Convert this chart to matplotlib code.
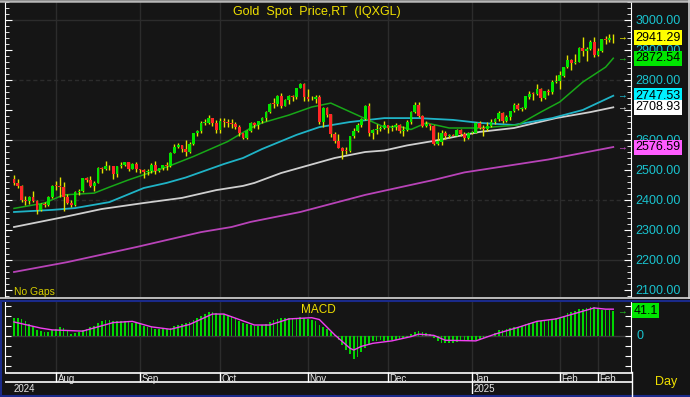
import numpy as np
import pandas as pd
import matplotlib
matplotlib.use("Agg")
import matplotlib.pyplot as plt
from matplotlib.lines import Line2D
from matplotlib.transforms import blended_transform_factory

# ---------------- data ----------------
start_date = "2024-07-17"
end_date = "2025-02-21"

opens = [2469, 2458, 2445, 2401, 2396, 2409, 2398, 2365, 2387, 2384, 2411,
         2448, 2447, 2443, 2410, 2390, 2383, 2427, 2431, 2472, 2465, 2448, 2457, 2508, 2504, 2514, 2512, 2485, 2512, 2518, 2525, 2504, 2521,
         2503, 2500, 2493, 2495, 2517, 2497, 2506, 2516, 2512, 2558, 2578, 2582, 2570, 2559, 2587, 2622, 2629, 2657, 2657, 2672, 2658,
         2635, 2663, 2659, 2656, 2653, 2644, 2622, 2608, 2631, 2657, 2649, 2662, 2674, 2693, 2721, 2720, 2748, 2715, 2735, 2747, 2743, 2774, 2788,
         2744, 2736, 2736, 2743, 2659, 2706, 2685, 2619, 2598, 2573, 2565, 2563, 2612, 2631, 2650, 2670, 2715, 2625, 2633, 2636, 2639,
         2650, 2640, 2643, 2650, 2631, 2633, 2660, 2694, 2718, 2680, 2648, 2652, 2646, 2587, 2595, 2622, 2613, 2617, 2615, 2633, 2621, 2606,
         2624, 2624, 2658, 2640, 2636, 2648, 2661, 2670, 2690, 2662, 2677, 2697, 2715, 2703, 2708, 2745, 2755, 2754, 2770, 2740, 2763, 2760, 2794,
         2798, 2815, 2843, 2866, 2856, 2861, 2908, 2898, 2904, 2928, 2882, 2898, 2936, 2933, 2939]
highs = [2483, 2470, 2449, 2412, 2412, 2431, 2400, 2390, 2393, 2413, 2451,
         2462, 2477, 2461, 2420, 2400, 2431, 2436, 2474, 2477, 2479, 2463, 2509, 2510, 2531, 2518, 2514, 2513, 2527, 2525, 2528, 2524, 2525,
         2504, 2503, 2503, 2523, 2529, 2507, 2518, 2526, 2560, 2586, 2589, 2584, 2600, 2594, 2625, 2634, 2664, 2670, 2685, 2674, 2666,
         2673, 2672, 2669, 2670, 2660, 2649, 2625, 2633, 2661, 2660, 2665, 2677, 2696, 2722, 2740, 2749, 2758, 2738, 2749, 2749, 2775, 2790, 2790,
         2770, 2746, 2750, 2749, 2710, 2711, 2686, 2626, 2619, 2576, 2578, 2614, 2639, 2656, 2673, 2717, 2722, 2637, 2655, 2647, 2664,
         2651, 2650, 2657, 2655, 2646, 2667, 2697, 2726, 2726, 2684, 2665, 2654, 2651, 2627, 2633, 2630, 2621, 2619, 2638, 2636, 2626, 2628,
         2630, 2661, 2665, 2649, 2660, 2670, 2673, 2697, 2693, 2684, 2698, 2725, 2724, 2711, 2746, 2763, 2760, 2786, 2772, 2765, 2770, 2800, 2817,
         2830, 2845, 2882, 2869, 2887, 2911, 2942, 2910, 2933, 2942, 2906, 2938, 2947, 2955, 2952]
lows = [2451, 2441, 2393, 2384, 2385, 2392, 2353, 2363, 2375, 2380, 2405,
        2432, 2410, 2364, 2385, 2377, 2380, 2415, 2427, 2461, 2444, 2431, 2455, 2491, 2501, 2500, 2471, 2478, 2505, 2512, 2498, 2502, 2493,
        2490, 2472, 2484, 2491, 2485, 2492, 2500, 2500, 2510, 2556, 2574, 2560, 2547, 2555, 2584, 2614, 2625, 2651, 2654, 2646, 2625,
        2624, 2645, 2643, 2640, 2636, 2615, 2604, 2603, 2627, 2640, 2637, 2656, 2665, 2690, 2706, 2715, 2708, 2713, 2720, 2730, 2736, 2772, 2730,
        2731, 2732, 2725, 2652, 2644, 2677, 2610, 2589, 2573, 2537, 2553, 2561, 2608, 2626, 2644, 2667, 2615, 2605, 2621, 2630, 2636,
        2622, 2631, 2633, 2624, 2613, 2631, 2655, 2690, 2677, 2645, 2644, 2634, 2583, 2585, 2584, 2603, 2608, 2612, 2613, 2615, 2596, 2603,
        2620, 2623, 2636, 2615, 2630, 2643, 2655, 2665, 2656, 2660, 2667, 2694, 2699, 2696, 2704, 2738, 2735, 2751, 2730, 2737, 2750, 2754, 2790,
        2771, 2810, 2839, 2834, 2853, 2859, 2880, 2865, 2901, 2877, 2880, 2893, 2920, 2928, 2925]
closes = [2458, 2445, 2401, 2396, 2409, 2398, 2365, 2387, 2384, 2411, 2448,
          2447, 2443, 2410, 2390, 2383, 2427, 2431, 2472, 2465, 2448, 2457, 2508, 2504, 2514, 2512, 2485, 2512, 2518, 2525, 2504, 2521, 2503,
          2500, 2493, 2495, 2517, 2497, 2506, 2516, 2512, 2558, 2578, 2582, 2570, 2559, 2587, 2622, 2629, 2657, 2657, 2672, 2658, 2635,
          2663, 2659, 2656, 2653, 2644, 2622, 2608, 2631, 2657, 2649, 2662, 2674, 2693, 2721, 2720, 2748, 2715, 2735, 2747, 2743, 2774, 2788, 2744,
          2736, 2736, 2743, 2659, 2706, 2685, 2619, 2598, 2573, 2565, 2563, 2612, 2631, 2650, 2670, 2715, 2625, 2633, 2636, 2639, 2650,
          2640, 2643, 2650, 2631, 2633, 2660, 2694, 2718, 2680, 2648, 2652, 2646, 2587, 2595, 2622, 2613, 2617, 2615, 2633, 2621, 2606, 2624,
          2624, 2658, 2640, 2636, 2648, 2661, 2670, 2690, 2662, 2677, 2697, 2715, 2703, 2708, 2745, 2755, 2754, 2770, 2740, 2763, 2760, 2794, 2798,
          2815, 2843, 2866, 2856, 2861, 2908, 2898, 2904, 2928, 2882, 2898, 2936, 2933, 2939, 2941.29]

ma20_dates = ["2024-07-17", "2024-07-29", "2024-08-05", "2024-08-15", "2024-08-21", "2024-08-28", "2024-09-05",
              "2024-09-11", "2024-09-20", "2024-10-03", "2024-10-11", "2024-10-16", "2024-10-25", "2024-11-04",
              "2024-11-11", "2024-11-21", "2024-11-29", "2024-12-05", "2024-12-10", "2024-12-16", "2024-12-24",
              "2025-01-03", "2025-01-17", "2025-01-27", "2025-02-03", "2025-02-11", "2025-02-19", "2025-02-21"]
ma20_vals = [2372, 2390, 2417, 2423, 2443, 2467, 2493, 2510, 2545, 2595, 2640, 2657, 2683, 2710,
             2723, 2677, 2643, 2645, 2635, 2657, 2640, 2640, 2650, 2693, 2727, 2793, 2843, 2872.54]

ma50_dates = ["2024-07-17", "2024-07-31", "2024-08-08", "2024-08-21", "2024-09-03", "2024-09-11", "2024-09-18",
              "2024-09-24", "2024-10-02", "2024-10-09", "2024-10-16", "2024-10-29", "2024-11-06", "2024-11-18",
              "2024-11-29", "2024-12-12", "2024-12-25", "2025-01-03", "2025-01-16", "2025-01-30", "2025-02-11", "2025-02-21"]
ma50_vals = [2360, 2367, 2373, 2393, 2440, 2457, 2475, 2493, 2520, 2540, 2570, 2617, 2643, 2660,
             2673, 2673, 2667, 2657, 2650, 2673, 2700, 2747.53]

ma100_dates = ["2024-07-17", "2024-08-05", "2024-08-19", "2024-09-03", "2024-09-17", "2024-09-30", "2024-10-09",
               "2024-10-14", "2024-10-23", "2024-11-12", "2024-11-22", "2024-11-29", "2024-12-09", "2024-12-18",
               "2025-01-03", "2025-01-16", "2025-01-31", "2025-02-13", "2025-02-21"]
ma100_vals = [2310, 2343, 2370, 2390, 2407, 2433, 2447, 2457, 2490, 2540, 2560, 2565, 2582, 2597,
              2627, 2640, 2673, 2693, 2708.93]

ma200_dates = ["2024-07-17", "2024-08-06", "2024-08-30", "2024-09-24", "2024-10-04", "2024-10-11", "2024-10-30",
               "2024-11-22", "2024-12-18", "2024-12-30", "2025-01-29", "2025-02-21"]
ma200_vals = [2160, 2193, 2243, 2293, 2310, 2327, 2360, 2417, 2467, 2492, 2535, 2576.59]

macd_hist = [30, 29, 28, 24, 20, 16, 10, 8, 7, 7, 10,
             12, 14, 13, 8, 3, 5, 7, 10, 12, 14, 17, 21, 24, 26, 26, 25, 25, 25, 24, 23, 22, 21,
             19, 17, 15, 14, 12, 11, 11, 11, 13, 16, 18, 20, 21, 23, 26, 29, 32, 36, 39, 40, 38,
             36, 36, 34, 32, 29, 25, 22, 19, 18, 17, 17, 18, 20, 23, 26, 28, 29, 29, 29, 29, 30, 31, 30,
             28, 26, 24, 18, 15, 12, 6, 2, -6, -14, -23, -30, -37, -34, -26, -20, -14, -9, -8, -7, -9,
             -8, -7, -6, -5, -4, -1, 3, 6, 8, 7, 5, 3, -4, -9, -11, -12, -12, -11, -10, -9, -9, -9,
             -9, -7, -5, -3, -1, 2, 5, 10, 10, 12, 13, 15, 15, 16, 19, 22, 23, 25, 25, 26, 27, 28, 29,
             30, 33, 38, 40, 41, 44, 45, 46, 47, 48, 45, 43, 42, 42, 41.1]

signal_dates = ["2024-07-17", "2024-07-26", "2024-07-31", "2024-08-12", "2024-08-22", "2024-08-29", "2024-09-05",
                "2024-09-12", "2024-09-19", "2024-09-27", "2024-10-02", "2024-10-14", "2024-10-18", "2024-10-25",
                "2024-11-04", "2024-11-06", "2024-11-12", "2024-11-18", "2024-11-19", "2024-11-21", "2024-11-26",
                "2024-12-03", "2024-12-10", "2024-12-12", "2024-12-18", "2024-12-23", "2025-01-02", "2025-01-09",
                "2025-01-17", "2025-01-24", "2025-01-31", "2025-02-07", "2025-02-14", "2025-02-19", "2025-02-21"]
signal_vals = [23, 13, 10, 8, 22, 24, 15, 11, 19, 36, 36, 18, 18, 28, 30, 27, 2, -20, -23, -17, -12,
               -8, -1, 3, 1, -7, -8, 3, 14, 24, 28, 37, 46, 44, 44]

tick_dates = ["2024-08-01", "2024-09-02", "2024-10-01", "2024-11-01", "2024-12-02", "2025-01-01", "2025-02-03", "2025-02-17"]
tick_labels = ["Aug", "Sep", "Oct", "Nov", "Dec", "Jan", "Feb", "Feb"]
year_dates = ["2024-07-17", "2025-01-01"]
year_labels = ["2024", "2025"]

price_ticks = [2100, 2200, 2300, 2400, 2500, 2600, 2700, 2800, 2900, 3000]
hidden_tick = 2700
title = "Gold  Spot  Price,RT  (IQXGL)"

# ---------------- setup ----------------
dates = pd.bdate_range(start_date, end_date)
pos = {d: i for i, d in enumerate(dates)}
def idx(ds):
    return np.array([pos[pd.Timestamp(d)] for d in ds], dtype=float)

x = np.arange(len(dates), dtype=float)
o = np.array(opens, float); h = np.array(highs, float)
l = np.array(lows, float); c = np.array(closes, float)

W, H = 690, 397
fig = plt.figure(figsize=(W / 100, H / 100), dpi=100)
fig.patch.set_facecolor("#141414")
plt.rcParams["font.family"] = ["Liberation Sans", "DejaVu Sans"]

def fx(px): return px / W
def fy(py): return 1 - py / H
def xpx(px): return (px - 14) / 3.817

BG = "#151515"
GRID = "#2c2c2c"
AXC = "#19c3cf"
XL = (xpx(5), xpx(631))

# main panel
ax = fig.add_axes([fx(5), fy(297), fx(631) - fx(5), fy(2) - fy(297)])
ax.set_facecolor(BG)
ax.set_xlim(*XL)
ax.set_ylim(3000 - (297 - 20) / 0.3, 3000 - (2 - 20) / 0.3)
for s in ["top", "bottom"]:
    ax.spines[s].set_visible(False)
for s in ["left", "right"]:
    ax.spines[s].set_color("white")
ax.set_yticks(price_ticks)
ax.set_yticks(np.arange(2080, 3061, 20), minor=True)
ax.set_yticklabels(["" if p == hidden_tick else f"{p:.2f}" for p in price_ticks])
ax.tick_params(axis="y", which="both", direction="in", colors="white", left=True, right=True,
               labelleft=False, labelright=True, labelcolor=AXC, labelsize=9, pad=3)
ax.tick_params(axis="y", which="major", length=5)
ax.tick_params(axis="y", which="minor", length=3)
ax.set_xticks([])
for p in [2200, 2400, 2600, 2800, 3000]:
    ax.axhline(p, color=GRID, lw=1, ls="-" if p in (2200, 2600, 3000) else (0, (3, 2)), zorder=0)
for d in tick_dates:
    ax.axvline(pos[pd.Timestamp(d)], color=GRID, lw=1, zorder=0)

# moving averages
ax.plot(idx(ma200_dates), ma200_vals, color="#b843b8", lw=1.3, zorder=2)
ax.plot(idx(ma100_dates), ma100_vals, color="#cfcfcf", lw=1.3, zorder=2)
ax.plot(idx(ma50_dates), ma50_vals, color="#1fb3c6", lw=1.3, zorder=2)
ax.plot(idx(ma20_dates), ma20_vals, color="#18a818", lw=1.1, zorder=2)

# candles
ax.vlines(x, l, h, color="#e2e200", lw=1, zorder=3)
up = c >= o
body_bot = np.minimum(o, c)
body_h = np.maximum(np.abs(c - o), 2.0)
ax.bar(x[up], body_h[up], bottom=body_bot[up], width=0.72, color="#00e400", lw=0, zorder=4)
ax.bar(x[~up], body_h[~up], bottom=body_bot[~up], width=0.72, color="#ff2626", lw=0, zorder=4)

ax.text(xpx(317), 3000 - (12 - 20) / 0.3, title, color="#f0e000", fontsize=9,
        ha="center", va="center", zorder=6)
ax.text(xpx(14), 2092, "No Gaps", color="#d8d000", fontsize=7.5, ha="left", va="center", zorder=6)

# right value boxes
tr = blended_transform_factory(ax.transAxes, ax.transData)
boxes = [(closes[-1], "#ffff00", "#ffff00"), (ma20_vals[-1], "#00e600", "#20c020"),
         (ma50_vals[-1], "#00f0ff", "#20c8e0"), (ma100_vals[-1], "#ffffff", "#e0e0e0"),
         (ma200_vals[-1], "#ff5cff", "#d050d0")]
for val, bc, ac in boxes:
    ax.text(1.007, val, f"{val:.2f}", transform=tr, ha="left", va="center", fontsize=9, color="black",
            bbox=dict(boxstyle="square,pad=0.12", fc=bc, ec="none"), clip_on=False, zorder=10)
    ax.text(xpx(622), val, "→", color=ac, fontsize=7, ha="center", va="center", zorder=6)

# MACD panel
mx = fig.add_axes([fx(5), fy(372), fx(631) - fx(5), fy(302) - fy(372)])
mx.set_facecolor(BG)
mx.set_xlim(*XL)
mx.set_ylim(-(372 - 336) / 0.61, (336 - 302) / 0.61)
for s in ["top", "bottom"]:
    mx.spines[s].set_visible(False)
for s in ["left", "right"]:
    mx.spines[s].set_color("white")
mx.set_xticks([])
mx.set_yticks(np.arange(-3, 4) * 16.4)
mx.set_yticklabels([])
mx.tick_params(axis="y", direction="in", colors="white", left=True, right=True, length=4)
mx.axhline(0, color="#3a3a3a", lw=1, zorder=0)
for d in tick_dates:
    mx.axvline(pos[pd.Timestamp(d)], color=GRID, lw=1, zorder=0)
mx.bar(x, macd_hist, width=0.45, color="#00d600", lw=0, zorder=2)
mx.plot(idx(signal_dates), signal_vals, color="#f040f0", lw=1.0, zorder=3)
mtr = blended_transform_factory(mx.transAxes, mx.transData)
mx.text(1.008, 0, "0", transform=mtr, color=AXC, fontsize=9, ha="left", va="center", clip_on=False)
mx.text(1.004, macd_hist[-1], f"{macd_hist[-1]:.1f}", transform=mtr, color="black", fontsize=9, ha="left",
        va="center", bbox=dict(boxstyle="square,pad=0.12", fc="#00e600", ec="none"), clip_on=False, zorder=10)
mx.text(xpx(622), macd_hist[-1], "→", color="#20c020", fontsize=7, ha="center", va="center")
mx.text(xpx(318), 42, "MACD", color="#f0e000", fontsize=8.5, ha="center", va="center")

# date axis
dx = fig.add_axes([fx(5), fy(394), fx(632) - fx(5), fy(372) - fy(394)])
dx.set_facecolor("#141414")
dx.set_xlim(XL[0], XL[1] + 1 / 3.817)
dx.set_ylim(22, 0)
dx.axis("off")
dx.axhline(0.5, color="white", lw=1.2)
dx.axhline(10.3, color="white", lw=1.2)
for d, lab in zip(tick_dates, tick_labels):
    p = pos[pd.Timestamp(d)]
    dx.vlines(p, 0, 10.3, color="white", lw=1)
    dx.text(p + 0.4, 6.5, lab, color="#e6e6e6", fontsize=7, ha="left", va="center")
for d, lab in zip(year_dates, year_labels):
    p = pos[pd.Timestamp(d)]
    if lab == "2025":
        dx.vlines(p, 10.3, 22, color="white", lw=1)
        dx.text(p + 0.4, 16.5, lab, color="#e6e6e6", fontsize=7, ha="left", va="center")
    else:
        dx.text(p, 16.5, lab, color="#e6e6e6", fontsize=7, ha="left", va="center")

fig.text(fx(655), fy(382), "Day", color="#f0e000", fontsize=9, ha="left", va="center")

# frame lines
def fline(x0, y0, x1, y1, col, lw=1.0):
    fig.add_artist(Line2D([fx(x0), fx(x1)], [fy(y0), fy(y1)], color=col, lw=lw))
fline(0, 0.8, 690, 0.8, "#b8b8b8", 1.8)
fline(689, 0, 689, 298, "#d0d0d0", 1.2)
fline(0, 298, 690, 298, "#d8d8d8", 1.2)
fline(0, 301, 690, 301, "#1a2a8a", 1.5)
fline(0.8, 301, 0.8, 397, "#1a2a8a", 1.5)
fline(0, 396, 690, 396, "#1a2a8a", 1.5)
fline(632, 372, 632, 396, "white", 1.0)

fig.savefig("out.png", dpi=100, facecolor=fig.get_facecolor())
